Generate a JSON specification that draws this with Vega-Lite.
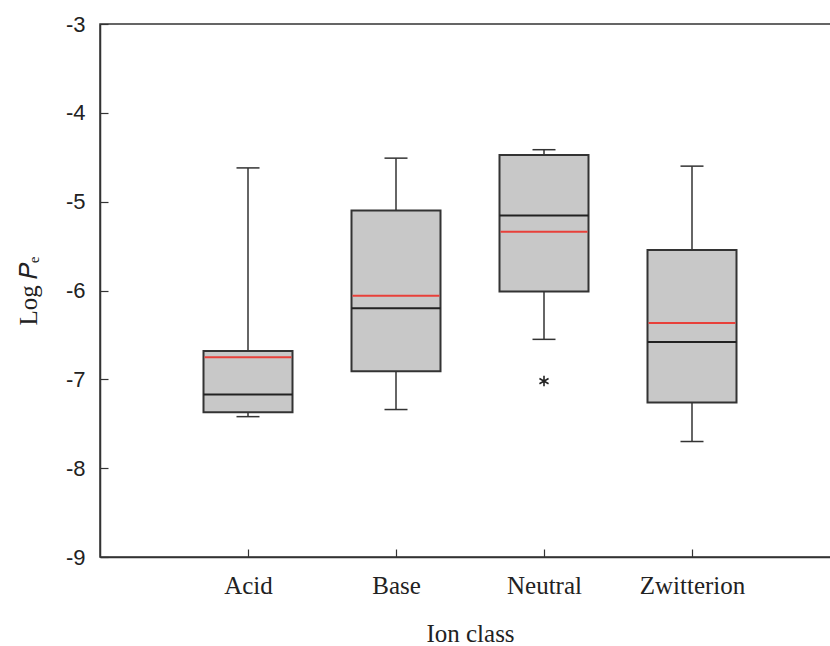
{
  "$schema": "https://vega.github.io/schema/vega-lite/v6.json",
  "autosize": {"type": "none"},
  "padding": {"left": 100, "top": 24, "right": 0, "bottom": 89},
  "width": 740,
  "height": 533,
  "background": "#ffffff",
  "config": {
    "view": {"stroke": "#333333", "strokeWidth": 1.5},
    "axis": {
      "domainColor": "#333333",
      "domainWidth": 1.5,
      "tickColor": "#333333",
      "tickWidth": 1.2,
      "tickSize": -8,
      "grid": false,
      "labelColor": "#222222",
      "titleColor": "#222222",
      "titleFontWeight": "normal"
    }
  },
  "datasets": {
    "stats": [
      {"ion": "Acid", "min": -7.42, "q1": -7.37, "median": -7.17, "mean": -6.75, "q3": -6.68, "max": -4.62},
      {"ion": "Base", "min": -7.34, "q1": -6.91, "median": -6.2, "mean": -6.06, "q3": -5.1, "max": -4.51},
      {"ion": "Neutral", "min": -6.55, "q1": -6.01, "median": -5.155, "mean": -5.34, "q3": -4.475, "max": -4.415},
      {"ion": "Zwitterion", "min": -7.7, "q1": -7.26, "median": -6.58, "mean": -6.365, "q3": -5.545, "max": -4.6}
    ],
    "outliers": [
      {"ion": "Neutral", "value": -7.02}
    ]
  },
  "data": {"name": "stats"},
  "encoding": {
    "x": {
      "field": "ion",
      "type": "nominal",
      "sort": ["Acid", "Base", "Neutral", "Zwitterion"],
      "scale": {"type": "point", "padding": 1},
      "axis": {
        "title": "Ion class",
        "labelAngle": 0,
        "labelFont": "Liberation Serif",
        "labelFontSize": 25,
        "labelPadding": 24,
        "titleFont": "Liberation Serif",
        "titleFontSize": 25,
        "titlePadding": 23
      }
    }
  },
  "layer": [
    {
      "mark": {"type": "rule", "color": "#333333", "strokeWidth": 1.5},
      "encoding": {
        "y": {
          "field": "min",
          "type": "quantitative",
          "scale": {"domain": [-9, -3], "nice": false, "zero": false},
          "axis": {
            "title": "Log 𝑃ₑ",
            "values": [-9, -8, -7, -6, -5, -4, -3],
            "labelExpr": "'' + datum.value",
            "labelFont": "Liberation Sans",
            "labelFontSize": 22,
            "labelPadding": 23,
            "titleFont": "Liberation Serif",
            "titleFontSize": 25,
            "titlePadding": 24
          }
        },
        "y2": {"field": "max"}
      }
    },
    {
      "mark": {"type": "tick", "color": "#333333", "size": 23, "thickness": 1.5, "opacity": 1},
      "encoding": {"y": {"field": "min", "type": "quantitative"}}
    },
    {
      "mark": {"type": "tick", "color": "#333333", "size": 23, "thickness": 1.5, "opacity": 1},
      "encoding": {"y": {"field": "max", "type": "quantitative"}}
    },
    {
      "mark": {"type": "bar", "size": 89, "fill": "#c8c8c8", "stroke": "#333333", "strokeWidth": 2},
      "encoding": {
        "y": {"field": "q1", "type": "quantitative"},
        "y2": {"field": "q3"}
      }
    },
    {
      "mark": {"type": "tick", "color": "#222222", "size": 89, "thickness": 2, "opacity": 1},
      "encoding": {"y": {"field": "median", "type": "quantitative"}}
    },
    {
      "mark": {"type": "tick", "color": "#e8403a", "size": 87, "thickness": 2, "opacity": 1},
      "encoding": {"y": {"field": "mean", "type": "quantitative"}}
    },
    {
      "data": {"name": "outliers"},
      "mark": {
        "type": "point",
        "shape": "M0,-1L0,1M-0.87,-0.5L0.87,0.5M-0.87,0.5L0.87,-0.5",
        "size": 110,
        "stroke": "#222222",
        "strokeWidth": 1.6,
        "filled": false,
        "opacity": 1
      },
      "encoding": {
        "y": {"field": "value", "type": "quantitative"}
      }
    }
  ]
}
